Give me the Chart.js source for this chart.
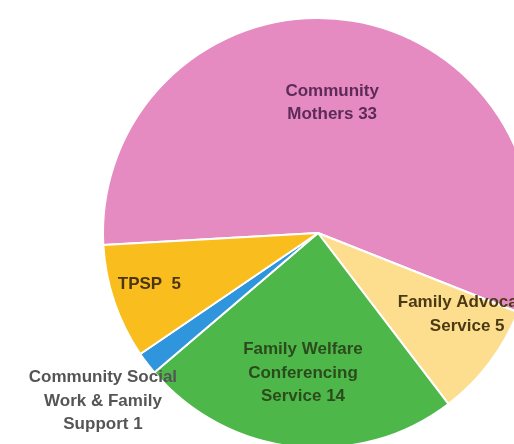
<!DOCTYPE html>
<html>
<head>
<meta charset="utf-8">
<script src="https://cdn.jsdelivr.net/npm/chart.js@4"></script>
<style>
  html, body { margin: 0; padding: 0; background: #ffffff; overflow: hidden; width: 514px; height: 444px; }
  #wrap { position: absolute; left: 0; top: 0; width: 540px; height: 460px; }
</style>
</head>
<body>
<div id="wrap"><canvas id="c" width="540" height="460"></canvas></div>
<script>
// ---- data ----
const categories = [
  "Community Mothers",
  "Family Advocacy Service",
  "Family Welfare Conferencing Service",
  "Community Social Work & Family Support",
  "TPSP"
];
const values = [33, 5, 14, 1, 5];
const labelLines = [
  ["Community", "Mothers 33"],
  ["Family Advocacy", "Service 5"],
  ["Family Welfare", "Conferencing", "Service 14"],
  ["Community Social", "Work & Family", "Support 1"],
  ["TPSP  5"]
];
const sliceColors = ["#E58BC1", "#FCDE8E", "#4DB749", "#2F95DC", "#F9BD1E"];
const textColors = ["#5e2a58", "#4a3a14", "#2b4b1d", "#555555", "#4a3510"];

// label placement: angle offset (deg) from slice mid-angle, and fraction of radius
const labelPlace = [
  { da: -3, f: 0.61 },
  { da: -8.6, f: 0.79 },
  { da: 0, f: 0.656 },
  { da: -0.7, f: 1.27 },
  { da: 1.7, f: 0.82 }
];

const sliceLabels = {
  id: 'sliceLabels',
  afterDatasetsDraw(chart) {
    const ctx = chart.ctx;
    const meta = chart.getDatasetMeta(0);
    ctx.save();
    ctx.font = 'bold 17px "Liberation Sans", Arial, sans-serif';
    ctx.textAlign = 'center';
    ctx.textBaseline = 'middle';
    const lh = 23.5;
    meta.data.forEach((arc, i) => {
      const p = arc.getProps(['x', 'y', 'startAngle', 'endAngle', 'outerRadius'], true);
      const mid = (p.startAngle + p.endAngle) / 2 + labelPlace[i].da * Math.PI / 180;
      const r = p.outerRadius * labelPlace[i].f;
      const cx = p.x + Math.cos(mid) * r;
      const cy = p.y + Math.sin(mid) * r;
      const lines = labelLines[i];
      ctx.fillStyle = textColors[i];
      lines.forEach((t, k) => {
        ctx.fillText(t, cx, cy + (k - (lines.length - 1) / 2) * lh);
      });
    });
    ctx.restore();
  }
};

new Chart(document.getElementById('c'), {
  type: 'pie',
  data: {
    labels: categories,
    datasets: [{
      data: values,
      backgroundColor: sliceColors,
      borderColor: '#ffffff',
      borderWidth: 2
    }]
  },
  options: {
    responsive: false,
    animation: false,
    rotation: 266.8,
    layout: { padding: { left: 102, top: 17, right: 6, bottom: 11 } },
    plugins: {
      legend: { display: false },
      tooltip: { enabled: false },
      title: { display: false }
    }
  },
  plugins: [sliceLabels]
});
</script>
</body>
</html>
